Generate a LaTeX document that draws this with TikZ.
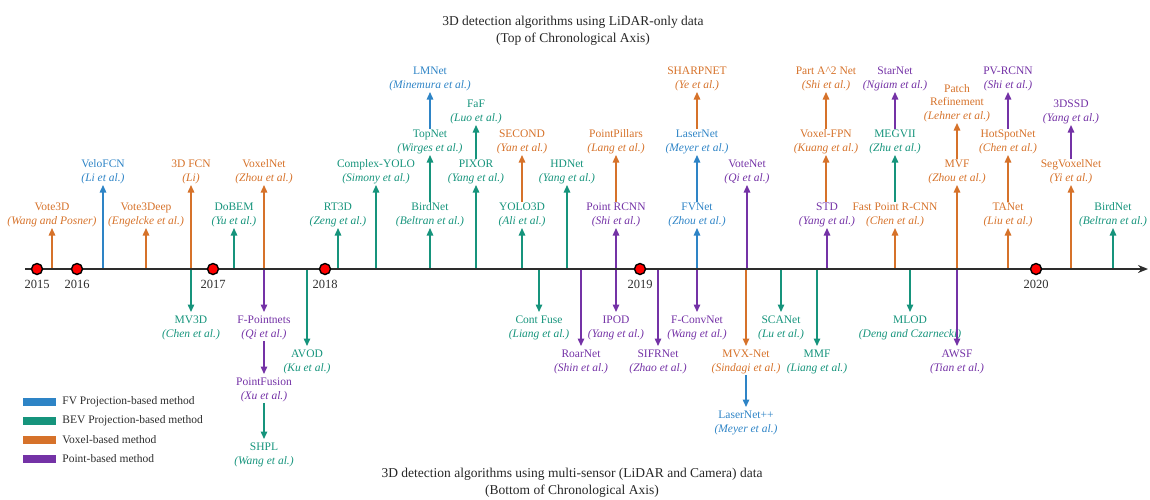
\documentclass[tikz,border=0pt]{standalone}
\usepackage{fontspec}
\setmainfont{Liberation Serif}
\usetikzlibrary{arrows.meta}

\definecolor{fvblue}{RGB}{46,132,198}
\definecolor{bevteal}{RGB}{22,148,124}
\definecolor{voxorange}{RGB}{214,114,42}
\definecolor{ptpurple}{RGB}{116,50,166}
\definecolor{inkgray}{RGB}{45,45,45}

\newcommand\labfont{\fontsize{11.5}{13.5}\selectfont}
\newcommand\algo[2]{#1\\\textit{#2}}

\tikzset{
  lab/.style={font=\labfont, align=center, inner sep=1pt, text=#1},
  up/.style={lab=#1, anchor=south},
  down/.style={lab=#1, anchor=north},
  stem/.style={draw=#1, line width=1.4pt, -{Triangle[length=7.5pt,width=6.5pt]}},
  dstem/.style={stem=#1, shorten >=3pt},
  yeardot/.style={circle, fill=red, draw=black, line width=1.4pt, minimum size=11pt, inner sep=0pt},
  yearlab/.style={font=\fontsize{12.5}{14}\selectfont, text=inkgray},
  title/.style={font=\fontsize{13.5}{17.5}\selectfont, align=center, text=black!85},
  swatch/.style={rectangle, minimum width=33pt, minimum height=8pt, inner sep=0pt},
  legtext/.style={font=\fontsize{11.5}{13}\selectfont, text=inkgray, anchor=west, inner sep=0pt},
  axisline/.style={draw=inkgray, line width=1.6pt, -{Stealth[length=10pt,width=8pt]}}
}

\begin{document}
\begin{tikzpicture}[x=1pt, y=-1pt]
\useasboundingbox (0,0) rectangle (1150,499);

% titles
\node[title] (toptitle) at (573,31) {3D detection algorithms using LiDAR-only data\\(Top of Chronological Axis)};
\node[title] (bottitle) at (572,483) {3D detection algorithms using multi-sensor (LiDAR and Camera) data\\(Bottom of Chronological Axis)};

% chronological axis
\coordinate (ax0) at (25,269);
\coordinate (ax1) at (1148,269);

% ---------- above the axis: LiDAR-only methods ----------
% first row
\node[up=voxorange] (vote3d)    at (52,228)   {\algo{Vote3D}{(Wang and Posner)}};
\node[up=voxorange] (vote3deep) at (146,228)  {\algo{Vote3Deep}{(Engelcke et al.)}};
\node[up=bevteal]   (dobem)     at (234,228)  {\algo{DoBEM}{(Yu et al.)}};
\node[up=bevteal]   (rt3d)      at (338,228)  {\algo{RT3D}{(Zeng et al.)}};
\node[up=bevteal]   (birdnet)   at (430,228)  {\algo{BirdNet}{(Beltran et al.)}};
\node[up=bevteal]   (yolo3d)    at (522,228)  {\algo{YOLO3D}{(Ali et al.)}};
\node[up=ptpurple]  (pointrcnn) at (616,228)  {\algo{Point RCNN}{(Shi et al.)}};
\node[up=fvblue]    (fvnet)     at (697,228)  {\algo{FVNet}{(Zhou et al.)}};
\node[up=ptpurple]  (std)       at (827,228)  {\algo{STD}{(Yang et al.)}};
\node[up=voxorange] (fastpoint) at (895,228)  {\algo{Fast Point R-CNN}{(Chen et al.)}};
\node[up=voxorange] (tanet)     at (1008,228) {\algo{TANet}{(Liu et al.)}};
\node[up=bevteal]   (birdnetb)  at (1113,228) {\algo{BirdNet}{(Beltran et al.)}};

% second row
\node[up=fvblue]    (velofcn)     at (103,185)  {\algo{VeloFCN}{(Li et al.)}};
\node[up=voxorange] (fcn3d)       at (191,185)  {\algo{3D FCN}{(Li)}};
\node[up=voxorange] (voxelnet)    at (264,185)  {\algo{VoxelNet}{(Zhou et al.)}};
\node[up=bevteal]   (complexyolo) at (376,185)  {\algo{Complex-YOLO}{(Simony et al.)}};
\node[up=bevteal]   (pixor)       at (476,185)  {\algo{PIXOR}{(Yang et al.)}};
\node[up=bevteal]   (hdnet)       at (567,185)  {\algo{HDNet}{(Yang et al.)}};
\node[up=ptpurple]  (votenet)     at (747,185)  {\algo{VoteNet}{(Qi et al.)}};
\node[up=voxorange] (mvf)         at (957,185)  {\algo{MVF}{(Zhou et al.)}};
\node[up=voxorange] (segvoxel)    at (1071,185) {\algo{SegVoxelNet}{(Yi et al.)}};

% successors of the first row
\node[up=bevteal]   (topnet)       at (430,155)  {\algo{TopNet}{(Wirges et al.)}};
\node[up=voxorange] (second)       at (522,155)  {\algo{SECOND}{(Yan et al.)}};
\node[up=voxorange] (pointpillars) at (616,155)  {\algo{PointPillars}{(Lang et al.)}};
\node[up=fvblue]    (lasernet)     at (697,155)  {\algo{LaserNet}{(Meyer et al.)}};
\node[up=voxorange] (voxelfpn)     at (826,155)  {\algo{Voxel-FPN}{(Kuang et al.)}};
\node[up=bevteal]   (megvii)       at (895,155)  {\algo{MEGVII}{(Zhu et al.)}};
\node[up=voxorange] (hotspot)      at (1008,155) {\algo{HotSpotNet}{(Chen et al.)}};

% successors of the second row
\node[up=bevteal]   (faf)    at (476,125)  {\algo{FaF}{(Luo et al.)}};
\node[up=ptpurple]  (sssd)   at (1071,125) {\algo{3DSSD}{(Yang et al.)}};
\node[up=voxorange] (patch)  at (957,123)  {Patch\\Refinement\\\textit{(Lehner et al.)}};

% top row
\node[up=fvblue]    (lmnet)    at (430,92)  {\algo{LMNet}{(Minemura et al.)}};
\node[up=voxorange] (sharpnet) at (697,92)  {\algo{SHARPNET}{(Ye et al.)}};
\node[up=voxorange] (parta2)   at (826,92)  {\algo{Part A\^{}2 Net}{(Shi et al.)}};
\node[up=ptpurple]  (starnet)  at (895,92)  {\algo{StarNet}{(Ngiam et al.)}};
\node[up=ptpurple]  (pvrcnn)   at (1008,92) {\algo{PV-RCNN}{(Shi et al.)}};

% stems rising from the axis
\foreach \n/\c in {vote3d/voxorange, vote3deep/voxorange, dobem/bevteal, rt3d/bevteal,
  birdnet/bevteal, yolo3d/bevteal, pointrcnn/ptpurple, fvnet/fvblue, std/ptpurple,
  fastpoint/voxorange, tanet/voxorange, birdnetb/bevteal, velofcn/fvblue, fcn3d/voxorange,
  voxelnet/voxorange, complexyolo/bevteal, pixor/bevteal, hdnet/bevteal, votenet/ptpurple,
  mvf/voxorange, segvoxel/voxorange}
  \draw[stem=\c] (\n.south |- ax0) -- (\n.south);

% follow-up links above the axis
\draw[stem=bevteal]   (birdnet.north)   -- (topnet.south);
\draw[stem=fvblue]    (topnet.north)    -- (lmnet.south);
\draw[stem=voxorange] (yolo3d.north)    -- (second.south);
\draw[stem=voxorange] (pointrcnn.north) -- (pointpillars.south);
\draw[stem=fvblue]    (fvnet.north)     -- (lasernet.south);
\draw[stem=voxorange] (lasernet.north)  -- (sharpnet.south);
\draw[stem=voxorange] (std.north -| voxelfpn.south) -- (voxelfpn.south);
\draw[stem=voxorange] (voxelfpn.north)  -- (parta2.south);
\draw[stem=bevteal]   (fastpoint.north) -- (megvii.south);
\draw[stem=ptpurple]  (megvii.north)    -- (starnet.south);
\draw[stem=voxorange] (tanet.north)     -- (hotspot.south);
\draw[stem=ptpurple]  (hotspot.north)   -- (pvrcnn.south);
\draw[stem=bevteal]   (pixor.north)     -- (faf.south);
\draw[stem=ptpurple]  (segvoxel.north)  -- (sssd.south);
\draw[stem=voxorange] (mvf.north)       -- (patch.south);

% ---------- below the axis: multi-sensor methods ----------
\node[down=bevteal]   (mv3d)       at (191,315) {\algo{MV3D}{(Chen et al.)}};
\node[down=ptpurple]  (fpointnets) at (264,315) {\algo{F-Pointnets}{(Qi et al.)}};
\node[down=bevteal]   (contfuse)   at (539,315) {\algo{Cont Fuse}{(Liang et al.)}};
\node[down=ptpurple]  (ipod)       at (616,315) {\algo{IPOD}{(Yang et al.)}};
\node[down=ptpurple]  (fconvnet)   at (697,315) {\algo{F-ConvNet}{(Wang et al.)}};
\node[down=bevteal]   (scanet)     at (781,315) {\algo{SCANet}{(Lu et al.)}};
\node[down=bevteal]   (mlod)       at (910,315) {\algo{MLOD}{(Deng and Czarnecki)}};

\node[down=bevteal]   (avod)    at (307,349) {\algo{AVOD}{(Ku et al.)}};
\node[down=ptpurple]  (roarnet) at (581,349) {\algo{RoarNet}{(Shin et al.)}};
\node[down=ptpurple]  (sifrnet) at (658,349) {\algo{SIFRNet}{(Zhao et al.)}};
\node[down=voxorange] (mvxnet)  at (746,349) {\algo{MVX-Net}{(Sindagi et al.)}};
\node[down=bevteal]   (mmf)     at (817,349) {\algo{MMF}{(Liang et al.)}};
\node[down=ptpurple]  (awsf)    at (957,349) {\algo{AWSF}{(Tian et al.)}};

\node[down=ptpurple]  (pointfusion) at (264,377) {\algo{PointFusion}{(Xu et al.)}};
\node[down=bevteal]   (shpl)        at (264,442) {\algo{SHPL}{(Wang et al.)}};
\node[down=fvblue]    (lasernetpp)  at (746,410) {\algo{LaserNet++}{(Meyer et al.)}};

% stems dropping from the axis
\foreach \n/\c in {mv3d/bevteal, fpointnets/ptpurple, contfuse/bevteal, ipod/ptpurple,
  fconvnet/ptpurple, scanet/bevteal, mlod/bevteal, avod/bevteal, roarnet/ptpurple,
  sifrnet/ptpurple, mvxnet/voxorange, mmf/bevteal, awsf/ptpurple}
  \draw[dstem=\c] (\n.north |- ax0) -- (\n.north);

% follow-up links below the axis
\draw[dstem=ptpurple] (fpointnets.south)  -- (pointfusion.north);
\draw[dstem=bevteal]  (pointfusion.south) -- (shpl.north);
\draw[dstem=fvblue]   (mvxnet.south)      -- (lasernetpp.north);

% axis and year markers (drawn last so they sit over the stems)
\draw[axisline] (ax0) -- (ax1);
\foreach \yr/\px in {2015/37, 2016/77, 2017/213, 2018/325, 2019/640, 2020/1036}{
  \node[yeardot] (dot\yr) at (\px,269) {};
  \node[yearlab] (yr\yr) at (\px,284.5) {\yr};
}

% legend
\node[swatch, fill=fvblue]    (sw1) at (39.5,402) {};
\node[swatch, fill=bevteal]   (sw2) at (39.5,421) {};
\node[swatch, fill=voxorange] (sw3) at (39.5,439.5) {};
\node[swatch, fill=ptpurple]  (sw4) at (39.5,459) {};
\node[legtext] (lg1) at ([xshift=6pt]sw1.east) {FV Projection-based method};
\node[legtext] (lg2) at ([xshift=6pt]sw2.east) {BEV Projection-based method};
\node[legtext] (lg3) at ([xshift=6pt]sw3.east) {Voxel-based method};
\node[legtext] (lg4) at ([xshift=6pt]sw4.east) {Point-based method};
\end{tikzpicture}
\end{document}
